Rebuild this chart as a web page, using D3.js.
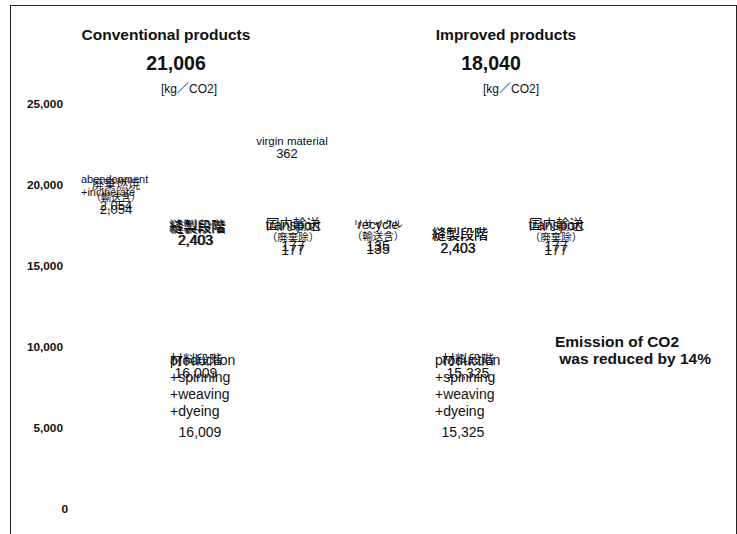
<!DOCTYPE html>
<html>
<head>
<meta charset="utf-8">
<script src="https://cdn.jsdelivr.net/npm/d3@7"></script>
<style>
  body { margin: 0; background: #fff; }
  svg { display: block; }
  text { font-family: "Liberation Sans", Arial, "Noto Sans CJK JP", sans-serif; fill: #111; }
</style>
</head>
<body>
<svg id="chart" width="737" height="534"></svg>
<script>
// CO2 emitted over the life cycle of a product, per stage [kg-CO2]
const groupNames = ["Conventional products", "Improved products"];
const groupTotals = [21006, 18040];
const unitLabel = "[kg／CO2]";

const conventionalStages = ["material", "sewing", "transport", "virgin", "disposal"];
const conventionalValues = [16009, 2403, 177, 362, 2054];
const improvedStages = ["material", "sewing", "transport", "recycle"];
const improvedValues = [15325, 2403, 177, 135];

const stageNamesJa = {
  material: ["材料段階"],
  sewing: ["縫製段階"],
  transport: ["国内輸送", "（廃棄除）"],
  disposal: ["廃棄燃焼", "（輸送含）"],
  recycle: ["リサイクル", "（輸送含）"]
};
const stageNamesEn = {
  material: ["production", "+spinning", "+weaving", "+dyeing"],
  sewing: ["縫製段階"],
  transport: ["transport"],
  virgin: ["virgin material"],
  disposal: ["abendonment", "+incinerate"],
  recycle: ["recycle"]
};

const yTickValues = [0, 5000, 10000, 15000, 20000, 25000];
const reductionNote = ["Emission of CO2", " was reduced by 14%"];

const fmt = d3.format(",");
const svg = d3.select("#chart");

// frame
svg.append("rect").attr("x", 10.5).attr("y", 5.5).attr("width", 726).attr("height", 540)
  .attr("fill", "none").attr("stroke", "#222").attr("stroke-width", 1);

const y = d3.scaleLinear().domain([0, 25000]).range([509, 104]);

// value axis: labels only
svg.append("g").selectAll("text").data(yTickValues).join("text")
  .attr("x", d => d === 0 ? 68 : 63).attr("y", d => y(d)).attr("dy", "0.35em")
  .attr("text-anchor", "end").attr("font-size", 11.8).attr("font-weight", "bold")
  .text(d => fmt(d));

// stage columns
const x = d3.scalePoint()
  .domain(["c-disposal", "c-sewing", "c-transport", "i-recycle", "i-sewing", "i-transport"])
  .range([116, 556]);

// running totals -> middle of each waterfall step
function steps(stages, values) {
  let acc = 0;
  return stages.map((s, i) => {
    const start = acc; acc += values[i];
    return { stage: s, value: values[i], mid: (start + acc) / 2 };
  });
}
const conv = steps(conventionalStages, conventionalValues);
const impr = steps(improvedStages, improvedValues);
const byStage = (arr, s) => arr.find(d => d.stage === s);

// label block: each line is placed relative to its column and the step's middle
function block(step, col, dx, anchor, lines) {
  const g = svg.append("g");
  const cx = x(col) + dx;
  const base = y(step.mid);
  lines.forEach(l => {
    g.append("text")
      .attr("x", l.x !== undefined ? cx + l.x : cx)
      .attr("y", base + l.dy)
      .attr("dominant-baseline", "central")
      .attr("text-anchor", l.anchor || anchor)
      .attr("font-size", l.size)
      .attr("font-weight", l.bold ? "bold" : null)
      .text(l.text);
  });
  return g;
}

// Conventional: disposal
{
  const s = byStage(conv, "disposal");
  block(s, "c-disposal", 0, "middle", [
    { text: stageNamesJa.disposal[0], size: 12, dy: 0 },
    { text: stageNamesJa.disposal[1], size: 10, dy: 12.5 },
    { text: fmt(s.value), size: 13, dy: 24.5 }
  ]);
  block(s, "c-disposal", 0, "start", [
    { text: stageNamesEn.disposal[0], size: 11, dy: -6.5, x: -35 },
    { text: stageNamesEn.disposal[1], size: 11, dy: 6.5, x: -35 },
    { text: fmt(s.value), size: 13, dy: 20.5, anchor: "middle" }
  ]);
}
// Conventional: sewing (both layers)
{
  const s = byStage(conv, "sewing");
  [0, 1].forEach(k => block(s, "c-sewing", -7 + k, "middle", [
    { text: k ? stageNamesEn.sewing[0] : stageNamesJa.sewing[0], size: 14, dy: -4 + k * 0.6 },
    { text: fmt(s.value), size: 14, dy: 9.5 + k * 0.6, x: -2 }
  ]));
}
// Conventional: virgin material
{
  const s = byStage(conv, "virgin");
  block(s, "c-transport", 0, "middle", [
    { text: stageNamesEn.virgin[0], size: 11.5, dy: -64 },
    { text: fmt(s.value), size: 13, dy: -51.5, x: -5 }
  ]);
}
// transport (both products)
[[conv, "c-transport", 1], [impr, "i-transport", 0]].forEach(([arr, col, dx]) => {
  const s = byStage(arr, "transport");
  const top = 224 - y(s.mid);
  block(s, col, dx, "middle", [
    { text: stageNamesJa.transport[0], size: 13.5, dy: top },
    { text: stageNamesJa.transport[1], size: 10.5, dy: top + 13 },
    { text: fmt(s.value), size: 14, dy: top + 22 }
  ]);
  block(s, col, dx, "middle", [
    { text: stageNamesEn.transport[0], size: 14, dy: top + 1 },
    { text: fmt(s.value), size: 14, dy: top + 26 }
  ]);
});
// Improved: recycle
{
  const s = byStage(impr, "recycle");
  const top = 224 - y(s.mid);
  block(s, "i-recycle", -2, "middle", [
    { text: stageNamesJa.recycle[0], size: 10, dy: top },
    { text: stageNamesJa.recycle[1], size: 10.5, dy: top + 12 },
    { text: fmt(s.value), size: 14, dy: top + 22 }
  ]);
  block(s, "i-recycle", -2, "middle", [
    { text: stageNamesEn.recycle[0], size: 13, dy: top },
    { text: fmt(s.value), size: 14, dy: top + 25 }
  ]);
}
// Improved: sewing
{
  const s = byStage(impr, "sewing");
  const top = 234 - y(s.mid);
  [0, 1].forEach(k => block(s, "i-sewing", -8, "middle", [
    { text: k ? stageNamesEn.sewing[0] : stageNamesJa.sewing[0], size: 14, dy: top },
    { text: fmt(s.value), size: 14, dy: top + 14, x: -2 }
  ]));
}
// material stage (both products)
[[conv, "c-sewing", -8, -26, 4], [impr, "i-sewing", 0, -33, -5]].forEach(([arr, col, dx, left, vx]) => {
  const s = byStage(arr, "material");
  const top = 359 - y(s.mid);
  block(s, col, dx, "middle", [
    { text: stageNamesJa.material[0], size: 13, dy: top },
    { text: fmt(s.value), size: 14, dy: top + 14 }
  ]);
  block(s, col, dx, "start", [
    ...stageNamesEn.material.map((t, i) => ({ text: t, size: 14, dy: top + 1 + i * 17, x: left })),
    { text: fmt(s.value), size: 14, dy: top + 73, anchor: "middle", x: vx }
  ]);
});

// group headings
const headX = [166, 506], totalX = [176, 491], unitX = [189, 511];
groupNames.forEach((name, i) => {
  svg.append("text").attr("x", headX[i]).attr("y", 40).attr("text-anchor", "middle")
    .attr("font-size", 15.5).attr("font-weight", "bold").text(name);
  svg.append("text").attr("x", totalX[i]).attr("y", 70).attr("text-anchor", "middle")
    .attr("font-size", 19.5).attr("font-weight", "bold").text(fmt(groupTotals[i]));
  svg.append("text").attr("x", unitX[i]).attr("y", 93).attr("text-anchor", "middle")
    .attr("font-size", 12).text(unitLabel);
});

// reduction note
svg.append("g").selectAll("text").data(reductionNote).join("text")
  .attr("x", 555).attr("y", (d, i) => 347 + i * 17)
  .attr("font-size", 15.5).attr("font-weight", "bold")
  .style("white-space", "pre")
  .text(d => d);
</script>
</body>
</html>
